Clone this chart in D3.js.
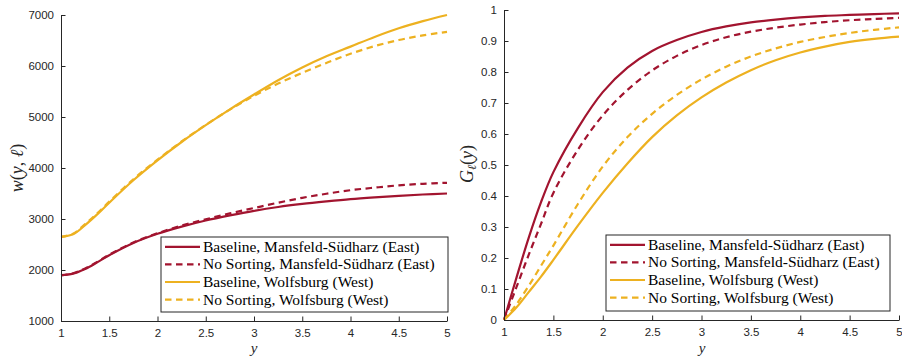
<!DOCTYPE html>
<html><head><meta charset="utf-8">
<script src="https://cdn.jsdelivr.net/npm/d3@7"></script>
<style>
html,body{margin:0;padding:0;background:#fff;}
svg{display:block;}
</style>
</head><body>
<svg id="chart" width="902" height="358"></svg>
<script>
// ---------- data ----------
const yGrid = [1, 1.125, 1.25, 1.375, 1.5, 1.75, 2, 2.25, 2.5, 2.75, 3, 3.25, 3.5, 3.75, 4, 4.25, 4.5, 4.75, 5];

// left panel: w(y, l)
const wBaselineEast   = [1900, 1930, 2020, 2150, 2290, 2530, 2710, 2850, 2970, 3070, 3160, 3235, 3295, 3345, 3390, 3425, 3455, 3480, 3500];
const wNoSortEast     = [1895, 1935, 2030, 2160, 2300, 2540, 2720, 2870, 2995, 3110, 3215, 3320, 3415, 3495, 3565, 3615, 3660, 3690, 3710];
const wBaselineWest   = [2650, 2700, 2880, 3090, 3320, 3760, 4150, 4510, 4840, 5150, 5440, 5720, 5970, 6190, 6380, 6570, 6740, 6880, 7000];
const wNoSortWest     = [2650, 2710, 2900, 3110, 3340, 3780, 4165, 4520, 4845, 5145, 5415, 5655, 5865, 6060, 6240, 6390, 6510, 6600, 6670];

// right panel: G_l(y)
const gBaselineEast   = [0, 0.135, 0.265, 0.38, 0.477, 0.62, 0.735, 0.814, 0.868, 0.903, 0.929, 0.947, 0.96, 0.969, 0.976, 0.981, 0.984, 0.987, 0.989];
const gNoSortEast     = [0, 0.105, 0.21, 0.31, 0.41, 0.55, 0.66, 0.742, 0.805, 0.852, 0.887, 0.912, 0.93, 0.943, 0.953, 0.961, 0.967, 0.971, 0.975];
const gBaselineWest   = [0, 0.04, 0.09, 0.14, 0.194, 0.305, 0.41, 0.505, 0.59, 0.66, 0.718, 0.766, 0.806, 0.838, 0.863, 0.882, 0.897, 0.907, 0.914];
const gNoSortWest     = [0, 0.05, 0.11, 0.175, 0.24, 0.375, 0.495, 0.59, 0.665, 0.726, 0.776, 0.817, 0.85, 0.876, 0.897, 0.913, 0.926, 0.936, 0.944];

const seriesNames = [
  "Baseline, Mansfeld-Südharz (East)",
  "No Sorting, Mansfeld-Südharz (East)",
  "Baseline, Wolfsburg (West)",
  "No Sorting, Wolfsburg (West)"
];
const xTicks = [1, 1.5, 2, 2.5, 3, 3.5, 4, 4.5, 5];
const xTickLabels = ["1", "1.5", "2", "2.5", "3", "3.5", "4", "4.5", "5"];
const wTicks = [1000, 2000, 3000, 4000, 5000, 6000, 7000];
const gTicks = [0, 0.1, 0.2, 0.3, 0.4, 0.5, 0.6, 0.7, 0.8, 0.9, 1];
const gTickLabels = ["0", "0.1", "0.2", "0.3", "0.4", "0.5", "0.6", "0.7", "0.8", "0.9", "1"];

// ---------- styles ----------
const RED = "#A2142F", YEL = "#EDB120", AX = "#262626";
const styles = [
  {color: RED, dash: null},
  {color: RED, dash: "6.5,4.5"},
  {color: YEL, dash: null},
  {color: YEL, dash: "6.5,4.5"}
];

const svg = d3.select("#chart");

function panel(opts) {
  const {x0, x1, y0, y1, yDomain, yTickVals, yTickFmt, series, legend} = opts;
  const x = d3.scaleLinear().domain([1, 5]).range([x0, x1]);
  const y = d3.scaleLinear().domain(yDomain).range([y1, y0]);
  const g = svg.append("g");

  const line = d3.line().x((d, i) => x(yGrid[i])).y(d => y(d)).curve(d3.curveCatmullRom.alpha(0.5));
  series.forEach((s, k) => {
    g.append("path").datum(s)
      .attr("d", line)
      .attr("fill", "none")
      .attr("stroke", styles[k].color)
      .attr("stroke-width", 2.2)
      .attr("stroke-dasharray", styles[k].dash);
  });

  const xAxis = d3.axisBottom(x).tickValues(xTicks).tickFormat((d, i) => xTickLabels[i])
    .tickSizeInner(-4.5).tickSizeOuter(0).tickPadding(8);
  const yAxis = d3.axisLeft(y).tickValues(yTickVals).tickFormat(yTickFmt)
    .tickSizeInner(-4.5).tickSizeOuter(0).tickPadding(7);
  const gx = g.append("g").attr("transform", `translate(0,${y1})`).call(xAxis);
  const gy = g.append("g").attr("transform", `translate(${x0},0)`).call(yAxis);
  [gx, gy].forEach(a => {
    a.select(".domain").attr("stroke", AX).attr("stroke-width", 1);
    a.selectAll(".tick line").attr("stroke", AX).attr("stroke-width", 1);
    a.selectAll(".tick text").attr("fill", AX)
      .attr("font-family", "'Liberation Sans', Arial, sans-serif").attr("font-size", 11.5);
  });

  // legend
  const lg = g.append("g");
  lg.append("rect").attr("x", legend.x).attr("y", legend.y)
    .attr("width", legend.w).attr("height", legend.h)
    .attr("fill", "#fff").attr("stroke", AX).attr("stroke-width", 1);
  seriesNames.forEach((name, k) => {
    const cy = legend.y + 9.8 + k * 17.6;
    lg.append("line").attr("x1", legend.x + 4).attr("x2", legend.x + 39)
      .attr("y1", cy).attr("y2", cy)
      .attr("stroke", styles[k].color).attr("stroke-width", 2.2)
      .attr("stroke-dasharray", styles[k].dash);
    lg.append("text")
      .attr("x", legend.x + 42).attr("y", cy + 5)
      .attr("fill", "#000")
      .attr("font-family", legend.font)
      .attr("font-size", legend.fs)
      .text(name);
  });
  return {x, y};
}

panel({
  x0: 61, x1: 447, y0: 15, y1: 321,
  yDomain: [1000, 7000], yTickVals: wTicks, yTickFmt: d => String(d),
  series: [wBaselineEast, wNoSortEast, wBaselineWest, wNoSortWest],
  legend: {x: 161, y: 237, w: 287, h: 75, font: "Liberation Serif", fs: 15.5}
});
panel({
  x0: 504, x1: 899, y0: 10, y1: 320,
  yDomain: [0, 1], yTickVals: gTicks, yTickFmt: (d, i) => gTickLabels[i],
  series: [gBaselineEast, gNoSortEast, gBaselineWest, gNoSortWest],
  legend: {x: 606, y: 235, w: 284, h: 76, font: "Liberation Serif", fs: 15.5}
});

const SERIF = "Liberation Serif";
function xLabel(cx) {
  svg.append("text").attr("x", cx).attr("y", 353).attr("text-anchor", "middle")
    .attr("font-family", SERIF).attr("font-size", 15).attr("font-style", "italic")
    .attr("fill", AX).text("y");
}
xLabel(254);
xLabel(702);

const wl = svg.append("text").attr("transform", "translate(23,168) rotate(-90)")
  .attr("text-anchor", "middle").attr("font-family", SERIF).attr("font-size", 18).attr("fill", AX);
wl.append("tspan").attr("font-style", "italic").text("w");
wl.append("tspan").text("(");
wl.append("tspan").attr("font-style", "italic").text("y");
wl.append("tspan").text(", ");
wl.append("tspan").attr("font-style", "italic").text("ℓ");
wl.append("tspan").text(")");

const gl = svg.append("text").attr("transform", "translate(473,164) rotate(-90)")
  .attr("text-anchor", "middle").attr("font-family", SERIF).attr("font-size", 18).attr("fill", AX);
gl.append("tspan").attr("font-style", "italic").text("G");
gl.append("tspan").attr("font-style", "italic").attr("font-size", 12).attr("dy", 3).text("ℓ");
gl.append("tspan").attr("dy", -3).text("(");
gl.append("tspan").attr("font-style", "italic").text("y");
gl.append("tspan").text(")");
</script>
</body></html>
